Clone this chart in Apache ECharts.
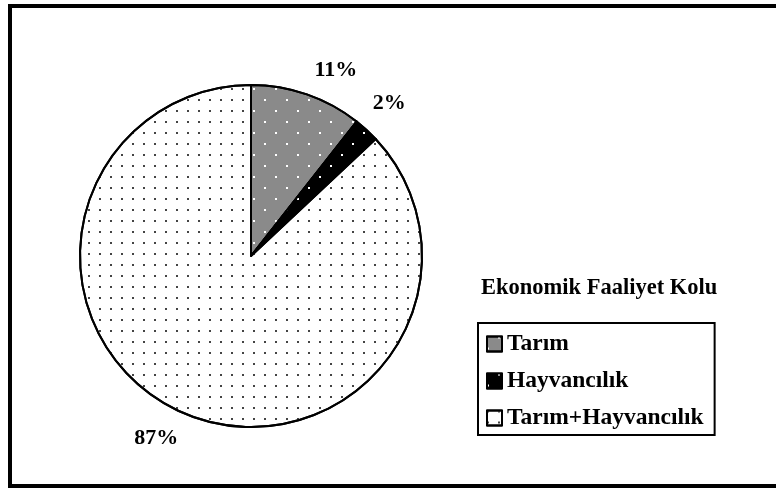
<!DOCTYPE html>
<html>
<head>
<meta charset="utf-8">
<script src="https://cdn.jsdelivr.net/npm/echarts@6/dist/echarts.min.js"></script>
<style>
  html, body { margin: 0; padding: 0; background: #fff; }
  #chart { width: 776px; height: 489px; }
</style>
</head>
<body>
<div id="chart"></div>
<script>
// Ekonomik faaliyet kolu dağılımı (%)
var categories = ['Tarım', 'Hayvancılık', 'Tarım+Hayvancılık'];
var values = [10.6, 2.4, 87.0];
var percentLabels = ['11%', '2%', '87%'];
var legendTitle = 'Ekonomik Faaliyet Kolu';

var serif = 'Liberation Serif, Times New Roman, serif';

// desenler (Excel'deki dolgu desenlerine benzer)
var fills = [
    { color: '#8a8a8a', decal: { symbol: 'rect', color: '#ffffff', dashArrayX: [[2, 20], [0, 11, 2, 9]], dashArrayY: [2, 9], symbolSize: 1 } },
    { color: '#000000', decal: { symbol: 'rect', color: '#ffffff', dashArrayX: [[2, 20], [0, 11, 2, 9]], dashArrayY: [2, 9], symbolSize: 1 } },
    { color: '#ffffff', decal: { symbol: 'rect', color: '#444444', dashArrayX: [2, 8.7], dashArrayY: [2, 8.7], symbolSize: 1 } }
];
var lineLengths = [26, 45, 55];
var labelNudge = [[-3, 0], [-26, 7], [19, -25]];

var chart = echarts.init(document.getElementById('chart'), null, { renderer: 'canvas' });

var option = {
    backgroundColor: '#ffffff',
    animation: false,
    title: {
        text: legendTitle,
        left: 476,
        top: 272,
        textStyle: { fontFamily: serif, fontSize: 22.5, fontWeight: 'bold', color: '#000' }
    },
    legend: {
        orient: 'vertical',
        left: 478,
        top: 323,
        data: categories,
        icon: 'rect',
        itemWidth: 15,
        itemHeight: 15,
        itemGap: 13,
        padding: [9, 11, 5, 8],
        borderColor: '#000',
        borderWidth: 2,
        textStyle: { fontFamily: serif, fontSize: 23.5, fontWeight: 'bold', color: '#000' }
    },
    graphic: [{
        type: 'rect',
        shape: { x: 10, y: 6, width: 800, height: 480 },
        style: { fill: 'none', stroke: '#000', lineWidth: 4 },
        silent: true
    }],
    series: [{
        type: 'pie',
        center: [251, 256],
        radius: 171,
        startAngle: 90,
        clockwise: true,
        avoidLabelOverlap: false,
        itemStyle: { borderColor: '#000', borderWidth: 2 },
        label: {
            position: 'outside',
            fontFamily: serif,
            fontSize: 22,
            fontWeight: 'bold',
            color: '#000',
            distanceToLabelLine: 2,
            formatter: function (p) { return percentLabels[p.dataIndex]; }
        },
        labelLayout: function (p) {
            return { dx: labelNudge[p.dataIndex][0], dy: labelNudge[p.dataIndex][1] };
        },
        data: categories.map(function (name, i) {
            return {
                name: name,
                value: values[i],
                itemStyle: { color: fills[i].color, decal: fills[i].decal },
                labelLine: { show: false, length: lineLengths[i], length2: 0 }
            };
        })
    }]
};
chart.setOption(option);
</script>
</body>
</html>
